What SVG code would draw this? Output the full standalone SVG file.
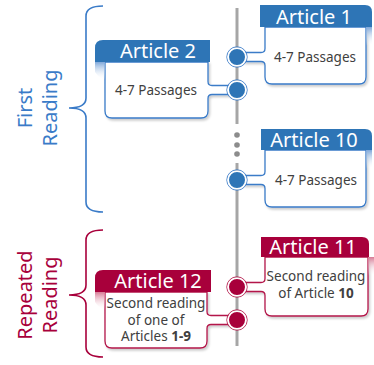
<svg xmlns="http://www.w3.org/2000/svg" width="374" height="365" viewBox="0 0 374 365">
<style>
.hdr{font-family:"Noto Sans","Open Sans",sans-serif;font-size:20px;fill:#fff;text-anchor:middle}
.bt{font-family:"Noto Sans","Open Sans",sans-serif;font-size:13.5px;fill:#404040;text-anchor:middle}
.lbl{font-family:"Noto Sans","Open Sans",sans-serif;font-size:20px;text-anchor:middle}
.bbody{fill:#fff;stroke:#3a7bc8;stroke-width:1.3;filter:url(#sh)}
.rbody{fill:#fff;stroke:#b3174a;stroke-width:1.3;filter:url(#sh)}
.bh{fill:#2e75b6}
.rh{fill:#a8003b}
.axis{stroke:#a6a6a6;stroke-width:3;fill:none}
</style>
<defs>
<filter id="sh" x="-10%" y="-10%" width="125%" height="130%">
<feDropShadow dx="1.5" dy="2" stdDeviation="1.2" flood-color="#000" flood-opacity="0.2"/>
</filter>
<linearGradient id="bfold" x1="0" y1="0" x2="0" y2="1">
<stop offset="0" stop-color="#7fa8da"/>
<stop offset="1" stop-color="#ffffff" stop-opacity="0"/>
</linearGradient>
<linearGradient id="rfold" x1="0" y1="0" x2="0" y2="1">
<stop offset="0" stop-color="#d77a95"/>
<stop offset="1" stop-color="#ffffff" stop-opacity="0"/>
</linearGradient>
<g id="bdot">
<circle r="10.2" fill="none" stroke="#3a7bc8" stroke-width="0.9"/>
<circle r="8.8" fill="#2e75b6" stroke="#fff" stroke-width="1.6"/>
</g>
<g id="rdot">
<circle r="10.2" fill="none" stroke="#b3174a" stroke-width="0.9"/>
<circle r="8.8" fill="#a8003b" stroke="#fff" stroke-width="1.6"/>
</g>
</defs>

<g id="brackets">
<path d="M103,6 Q86,6 86,16 V98 Q86,108 69,108 Q86,108 86,118 V202 Q86,212 103,212" fill="none" stroke="#3a7bc8" stroke-width="1.6"/>
<path d="M103,230 Q86,230 86,240 V285 Q86,295 69,295 Q86,295 86,305 V347 Q86,357 103,357" fill="none" stroke="#a8003b" stroke-width="1.6"/>
</g>
<g id="labels">
<text class="lbl" fill="#3a7bc8" transform="translate(0,108) rotate(-90)"><tspan x="0" y="31.5">First</tspan><tspan x="0" y="56.5">Reading</tspan></text>
<text class="lbl" fill="#a8003b" transform="translate(0,295) rotate(-90)"><tspan x="0" y="31.5">Repeated</tspan><tspan x="0" y="56.5">Reading</tspan></text>
</g>

<g id="timeline">
<line class="axis" x1="237" y1="8" x2="237" y2="124"/>
<circle cx="237" cy="135" r="2.8" fill="#8c8c8c"/>
<circle cx="237" cy="145" r="2.8" fill="#8c8c8c"/>
<circle cx="237" cy="154" r="2.8" fill="#8c8c8c"/>
<line class="axis" x1="237" y1="163" x2="237" y2="346"/>
</g>

<g id="article1">
<path class="bbody" d="M265,27 V48.5 Q265,52.5 261,52.5 H244 V61.5 H261 Q265,61.5 265,65.5 V77 Q265,84 272,84 H359 Q366,84 366,77 V27 Z"/>
<path d="M366,27 H372 V44 Q369,44 366,46 Z" fill="url(#bfold)"/>
<path class="bh" d="M260,27 V5 H365 Q372,5 372,12 V27 Z"/>
<text class="hdr" x="314" y="24">Article 1</text>
<text class="bt" x="315" y="62">4-7 Passages</text>
<use href="#bdot" x="237" y="57"/>
</g>

<g id="article2">
<path class="bbody" d="M208,62 V81.5 Q208,85.5 212,85.5 H230 V94.5 H212 Q208,94.5 208,98.5 V111 Q208,118 201,118 H112 Q105,118 105,111 V62 Z"/>
<path d="M95,62 H105 V80 Q99,78 95,72 Z" fill="url(#bfold)"/>
<path class="bh" d="M95,62 V48 Q95,40 103,40 H210 V62 Z"/>
<text class="hdr" x="158" y="58">Article 2</text>
<text class="bt" x="156" y="95">4-7 Passages</text>
<use href="#bdot" x="237" y="90"/>
</g>

<g id="article10">
<path class="bbody" d="M265,150 V171.5 Q265,175.5 261,175.5 H244 V184.5 H261 Q265,184.5 265,188.5 V200 Q265,207 272,207 H359 Q366,207 366,200 V150 Z"/>
<path d="M366,150 H372 V167 Q369,167 366,169 Z" fill="url(#bfold)"/>
<path class="bh" d="M261,150 V129 H365 Q372,129 372,136 V150 Z"/>
<text class="hdr" x="314" y="147">Article 10</text>
<text class="bt" x="316" y="185">4-7 Passages</text>
<use href="#bdot" x="237" y="180"/>
</g>

<g id="article11">
<path class="rbody" d="M265,257 V278.5 Q265,282.5 261,282.5 H244 V291.5 H261 Q265,291.5 265,295.5 V309 Q265,316 272,316 H361 Q368,316 368,309 V257 Z"/>
<path d="M368,257 H374 V274 Q371,274 368,276 Z" fill="url(#rfold)"/>
<path class="rh" d="M261,257 V237 H362 Q369,237 369,244 V257 Z"/>
<text class="hdr" x="313" y="254">Article 11</text>
<text class="bt" x="316" y="281">Second reading</text>
<text class="bt" x="316" y="298">of Article <tspan font-weight="bold">10</tspan></text>
<use href="#rdot" x="237" y="287"/>
</g>

<g id="article12">
<path class="rbody" d="M207,292 V311.5 Q207,315.5 211,315.5 H230 V324.5 H211 Q207,324.5 207,328.5 V341 Q207,348 200,348 H112 Q105,348 105,341 V292 Z"/>
<path d="M95,292 H105 V310 Q99,308 95,302 Z" fill="url(#rfold)"/>
<path class="rh" d="M95,292 V278 Q95,270 103,270 H211 V292 Z"/>
<text class="hdr" x="158" y="288">Article 12</text>
<text class="bt" x="156" y="308">Second reading</text>
<text class="bt" x="156" y="325">of one of</text>
<text class="bt" x="156" y="341">Articles <tspan font-weight="bold">1-9</tspan></text>
<use href="#rdot" x="237" y="320"/>
</g>
</svg>
